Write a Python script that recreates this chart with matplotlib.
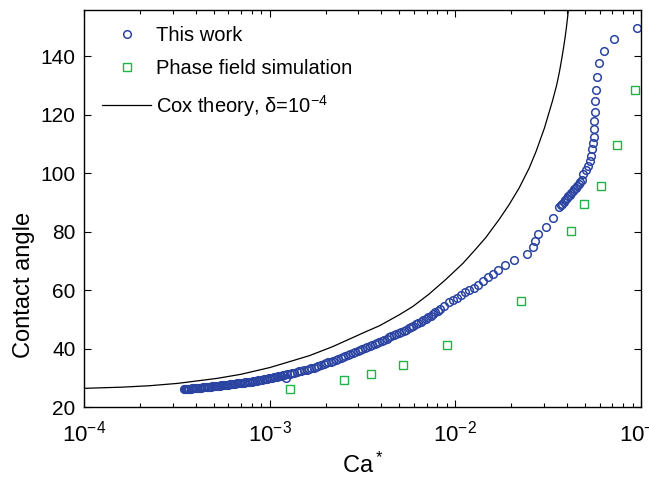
import matplotlib
matplotlib.use('Agg')
import matplotlib.pyplot as plt
from matplotlib.ticker import LogLocator, NullFormatter, FixedLocator

plt.rcParams['font.family'] = ['Liberation Sans', 'DejaVu Sans']
plt.rcParams['mathtext.fontset'] = 'custom'
plt.rcParams['mathtext.rm'] = 'Liberation Sans'
plt.rcParams['mathtext.it'] = 'Liberation Sans:italic'
plt.rcParams['mathtext.bf'] = 'Liberation Sans:bold'

# "This work": contact angle vs capillary number
ca_work = [
    # low-Ca branch (very dense)
    3.45e-4, 3.50e-4, 3.55e-4, 3.60e-4, 3.65e-4, 3.70e-4, 3.75e-4, 3.80e-4,
    3.85e-4, 3.90e-4, 3.95e-4, 4.00e-4, 4.07e-4, 4.14e-4, 4.21e-4, 4.28e-4,
    4.35e-4, 4.42e-4, 4.50e-4, 4.58e-4, 4.66e-4, 4.74e-4, 4.82e-4, 4.90e-4,
    5.00e-4, 5.10e-4, 5.20e-4, 5.30e-4, 5.40e-4, 5.50e-4, 5.60e-4, 5.70e-4,
    5.80e-4, 5.90e-4, 6.00e-4, 6.10e-4, 6.20e-4, 6.35e-4, 6.50e-4, 6.65e-4,
    6.80e-4, 6.95e-4, 7.10e-4, 7.25e-4, 7.40e-4, 7.55e-4, 7.70e-4, 7.85e-4,
    8.00e-4, 8.15e-4, 8.30e-4, 8.50e-4, 8.70e-4, 8.90e-4, 9.10e-4, 9.30e-4,
    9.50e-4, 9.70e-4, 9.90e-4, 1.01e-3, 1.03e-3, 1.05e-3, 1.07e-3, 1.09e-3,
    1.11e-3, 1.13e-3, 1.15e-3, 1.175e-3, 1.20e-3, 1.22e-3,
    # middle branch
    1.24e-3, 1.28e-3, 1.32e-3, 1.36e-3, 1.40e-3, 1.44e-3, 1.48e-3, 1.53e-3,
    1.58e-3, 1.63e-3, 1.68e-3, 1.73e-3, 1.78e-3, 1.83e-3, 1.89e-3, 1.95e-3,
    2.01e-3, 2.07e-3, 2.13e-3, 2.20e-3, 2.27e-3, 2.34e-3, 2.41e-3, 2.48e-3,
    2.56e-3, 2.64e-3, 2.72e-3, 2.80e-3, 2.89e-3, 2.98e-3, 3.07e-3, 3.16e-3,
    3.26e-3, 3.36e-3, 3.46e-3, 3.57e-3, 3.68e-3, 3.79e-3, 3.90e-3, 4.02e-3,
    4.14e-3, 4.27e-3, 4.40e-3, 4.53e-3, 4.67e-3, 4.81e-3, 4.96e-3, 5.11e-3,
    5.27e-3, 5.43e-3, 5.60e-3, 5.77e-3, 5.95e-3, 6.13e-3, 6.32e-3, 6.51e-3,
    6.71e-3, 6.92e-3, 7.13e-3, 7.35e-3, 7.58e-3, 7.81e-3, 8.05e-3,
    # sparser part
    8.28e-3, 8.73e-3, 9.20e-3, 9.68e-3, 1.016e-2, 1.074e-2, 1.132e-2, 1.189e-2,
    1.253e-2, 1.324e-2, 1.403e-2, 1.493e-2, 1.589e-2, 1.702e-2, 1.841e-2,
    2.070e-2, 2.427e-2, 2.606e-2, 2.682e-2, 2.793e-2, 3.059e-2, 3.352e-2,
    # cluster before the steep rise
    3.623e-2, 3.692e-2, 3.762e-2, 3.831e-2, 3.903e-2, 3.976e-2, 4.050e-2,
    4.126e-2, 4.203e-2, 4.281e-2, 4.362e-2, 4.443e-2, 4.526e-2, 4.613e-2,
    4.699e-2, 4.786e-2,
    # steep rise
    4.895e-2, 5.043e-2, 5.169e-2, 5.299e-2, 5.365e-2, 5.472e-2, 5.520e-2,
    5.610e-2, 5.610e-2, 5.588e-2, 5.658e-2, 5.679e-2, 5.729e-2, 5.800e-2,
    5.924e-2, 6.348e-2, 7.131e-2, 9.553e-2,
]
angle_work = [
    26.10, 26.14, 26.18, 26.21, 26.25, 26.29, 26.32, 26.36,
    26.39, 26.43, 26.46, 26.49, 26.54, 26.58, 26.63, 26.67,
    26.72, 26.76, 26.81, 26.86, 26.90, 26.95, 26.99, 27.04,
    27.09, 27.16, 27.22, 27.29, 27.35, 27.41, 27.48, 27.54,
    27.60, 27.65, 27.71, 27.77, 27.82, 27.91, 27.99, 28.06,
    28.14, 28.21, 28.29, 28.36, 28.43, 28.50, 28.56, 28.64,
    28.73, 28.83, 28.92, 29.05, 29.17, 29.29, 29.41, 29.52,
    29.63, 29.74, 29.85, 29.96, 30.08, 30.19, 30.30, 30.41,
    30.52, 30.63, 30.73, 30.86, 30.99, 29.90,
    31.2, 31.4, 31.6, 31.8, 32.0, 32.2, 32.3, 32.6,
    32.8, 33.0, 33.2, 33.5, 33.8, 34.1, 34.4, 34.7,
    35.0, 35.3, 35.5, 35.9, 36.2, 36.5, 36.8, 37.1,
    37.5, 37.8, 38.1, 38.4, 38.7, 39.1, 39.4, 39.7,
    40.1, 40.5, 40.8, 41.2, 41.6, 41.9, 42.3, 42.7,
    43.0, 43.4, 43.8, 44.2, 44.5, 44.9, 45.3, 45.7,
    46.1, 46.5, 46.9, 47.3, 47.8, 48.3, 48.8, 49.2,
    49.7, 50.2, 50.7, 51.3, 51.9, 52.4, 53.0,
    53.5, 54.6, 55.8, 56.7, 57.4, 58.3, 59.2, 59.9,
    60.9, 61.9, 63.0, 64.4, 65.6, 67.0, 68.5,
    70.2, 72.4, 74.8, 76.7, 79.2, 81.7, 84.7,
    88.4, 89.0, 89.6, 90.2, 90.8, 91.5, 92.1,
    92.7, 93.3, 93.9, 94.5, 95.1, 95.8, 96.4,
    97.0, 97.8,
    99.9, 101.1, 102.4, 104.2, 105.9, 108.2, 110.2,
    112.5, 115.3, 117.9, 120.9, 124.7, 128.6, 132.8,
    137.7, 141.7, 146.1, 149.6,
]

# Phase field simulation
ca_pf = [1.285e-3, 2.52e-3, 3.53e-3, 5.21e-3, 9.0e-3, 2.25e-2,
         4.22e-2, 4.94e-2, 6.08e-2, 7.46e-2, 9.25e-2]
angle_pf = [26.2, 29.2, 31.2, 34.3, 41.3, 56.4,
            80.4, 89.5, 95.5, 109.5, 128.5]

# Cox theory, delta = 1e-4
ca_cox = [1.0e-4, 1.6e-4, 2.26e-4, 3.2e-4, 5.2e-4, 7.0e-4, 1.0e-3, 1.26e-3,
          1.64e-3, 2.19e-3, 3.3e-3, 3.9e-3, 5.0e-3, 5.9e-3, 7.2e-3, 8.9e-3,
          1.10e-2, 1.29e-2, 1.459e-2, 1.722e-2, 1.950e-2, 2.208e-2, 2.500e-2,
          2.723e-2, 3.020e-2, 3.327e-2, 3.508e-2, 3.631e-2, 3.733e-2,
          3.819e-2, 3.899e-2, 3.963e-2, 4.018e-2, 4.064e-2, 4.102e-2]
angle_cox = [26.4, 26.8, 27.3, 28.1, 29.8, 31.2, 33.5, 35.4,
             37.6, 40.7, 45.8, 47.8, 51.6, 54.4, 58.6, 63.7,
             69.2, 74.1, 78.0, 84.2, 89.3, 95.0, 101.8,
             107.5, 115.5, 124.5, 130.0, 134.5, 138.8,
             142.6, 146.4, 149.8, 153.0, 156.0, 158.6]

fig = plt.figure(figsize=(6.49, 4.8), dpi=100)
ax = fig.add_axes([0.1294, 0.152, 0.8583, 0.828])

ax.plot(ca_work, angle_work, 'o', ls='none', ms=5.5, mfc='none',
        mec='#2b44a2', mew=1.1, label='This work')
ax.plot(ca_pf, angle_pf, 's', ls='none', ms=6.0, mfc='none',
        mec='#1fb34a', mew=1.0, label='Phase field simulation')
ax.plot(ca_cox, angle_cox, '-', color='black', lw=0.9,
        label='Cox theory, δ=10$^{-4}$')

ax.set_xscale('log')
ax.set_xlim(1e-4, 1e-1)
ax.set_ylim(20, 156)
ax.yaxis.set_major_locator(FixedLocator([20, 40, 60, 80, 100, 120, 140]))
ax.xaxis.set_minor_locator(LogLocator(base=10, subs=range(2, 10)))
ax.xaxis.set_minor_formatter(NullFormatter())

ax.tick_params(which='both', direction='in', top=True, right=True, width=0.8)
ax.tick_params(which='major', length=5)
ax.tick_params(which='minor', length=2.8)
ax.tick_params(axis='y', labelsize=15, pad=6)
ax.tick_params(axis='x', labelsize=16, pad=10)
for s in ax.spines.values():
    s.set_linewidth(1.0)

ax.set_xlabel('Ca$^*$', fontsize=17, labelpad=4)
ax.set_ylabel('Contact angle', fontsize=17)
ax.yaxis.set_label_coords(-0.088, 0.307)

ax.legend(loc='upper left', bbox_to_anchor=(0.007, 0.995), frameon=False,
          fontsize=14.5, handlelength=2.45, handletextpad=0.25,
          labelspacing=0.72, borderaxespad=0.3, borderpad=0.4, numpoints=1)

fig.savefig('out.png', dpi=100)
